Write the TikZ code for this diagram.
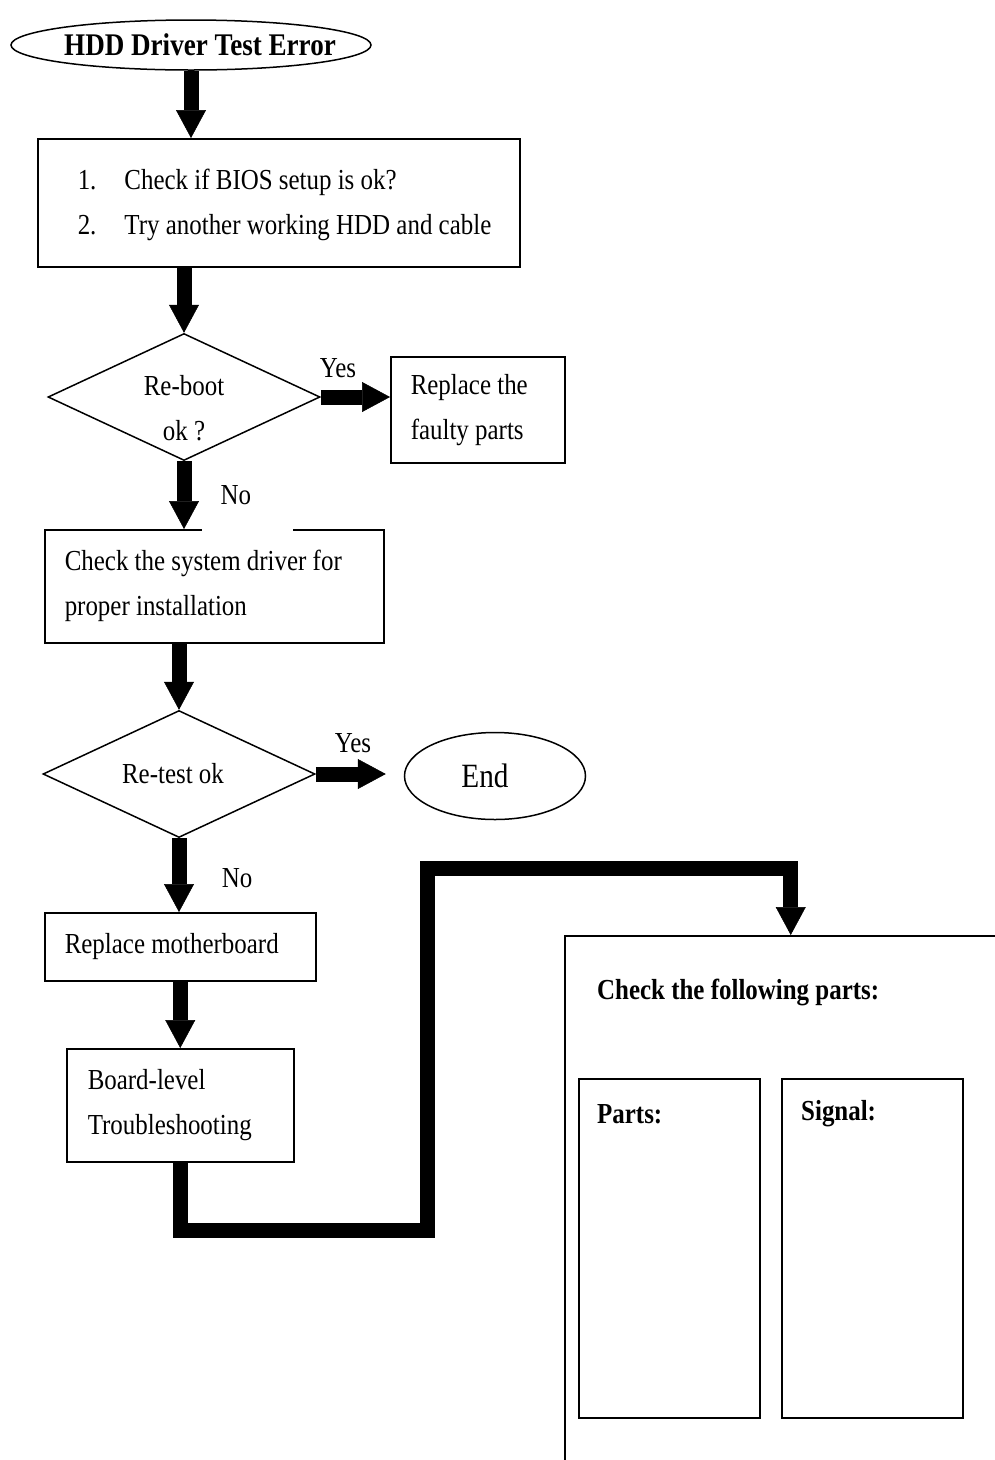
\documentclass[tikz,border=0pt]{standalone}
\usepackage{fontspec}
\setmainfont[FakeStretch=0.86]{Liberation Serif}
\usetikzlibrary{shapes.geometric, arrows.meta, positioning}

\newcommand{\bodyfont}{\fontsize{29}{45}\selectfont}
\newcommand{\headfont}{\fontsize{31.5}{36}\selectfont\bfseries}

\tikzset{
    box/.style={draw, line width=1.5pt, rectangle, anchor=north west, align=left, inner xsep=20pt, inner ysep=0pt,
        execute at begin node={\spaceskip=0pt\xspaceskip=0pt\relax}},
    decision/.style={draw, line width=1.5pt, diamond, aspect=2.14, inner sep=0pt, align=center, minimum width=272pt, minimum height=127pt},
    terminal/.style={draw, line width=1.5pt, ellipse, inner sep=0pt},
    lbl/.style={inner sep=0pt},
    bold/.style={inner sep=0pt, anchor=west, font=\bodyfont\bfseries},
    bigarrow/.style={line width=15pt, -{Triangle[width=30pt, length=28pt, line width=0.5pt]}},
}

\begin{document}
\begin{tikzpicture}[x=1pt, y=-1pt, font=\bodyfont]
    \useasboundingbox (0,0) rectangle (995,1460);
    \clip (0,0) rectangle (995,1460);

    % 1. Start and first checks
    \node[terminal, minimum width=360pt, minimum height=50pt, font=\headfont] (start) at (191,45) {\makebox[0pt]{\hspace*{18pt}HDD Driver Test Error}};
    \node[box, inner xsep=40pt, text width=402pt, minimum height=128pt] (bios) at (37,138)
        {\begin{tabular}{@{}l@{\hspace{28pt}}l@{}}1. & Check if BIOS setup is ok?\\ 2. & Try another working HDD and cable\end{tabular}};
    \node[decision] (reboot) at (184,397) {\rule{0pt}{42pt}Re-boot\\ok ?};
    \node[box, text width=134pt, minimum height=106pt] (replace) at (390,356) {Replace the\\faulty parts};

    % 2. Driver check and re-test
    \node[box, text width=299pt, minimum height=113pt] (driver) at (44,529) {Check the system driver for\\proper installation};
    \node[decision] (retest) at (179,774) {\makebox[0pt]{\hspace*{-12pt}Re-test ok}};
    \node[terminal, minimum width=181pt, minimum height=87pt, font=\fontsize{34}{40}\selectfont] (end) at (495,776) {\makebox[0pt]{\hspace*{-20pt}End}};

    % 3. Motherboard and board level
    \node[box, text width=231pt, minimum height=68pt] (mb) at (44,912) {Replace motherboard};
    \node[box, inner xsep=21pt, text width=185pt, minimum height=113pt] (board) at (66,1048) {Board-level\\Troubleshooting};

    % 4. Parts list
    \node[box, minimum width=452pt, minimum height=600pt] (check) at (564,935) {};
    \node[bold] (checkhd) at (597,992) {Check the following parts:};
    \node[box, minimum width=181pt, minimum height=339pt] (parts) at (578,1078) {};
    \node[box, minimum width=181pt, minimum height=339pt] (signal) at (781,1078) {};
    \node[bold] (partshd) at ([shift={(19,36)}]parts.north west) {Parts:};
    \node[bold] (signalhd) at ([shift={(20,36)}]signal.north west) {Signal:};

    % 5. Arrows
    \draw[bigarrow] (start.south) -- (start.south |- bios.north);
    \draw[bigarrow] (reboot.north |- bios.south) -- (reboot.north);
    \draw[bigarrow] (reboot.south) -- (reboot.south |- driver.north);
    \draw[bigarrow] (reboot.east) -- (reboot.east -| replace.west);
    \draw[bigarrow] (retest.north |- driver.south) -- (retest.north);
    \draw[bigarrow] (retest.south) -- (retest.south |- mb.north);
    \path (retest.east) ++(70,0) coordinate (endin);
    \draw[bigarrow] (retest.east) -- (endin);
    \draw[bigarrow] (board.north |- mb.south) -- (board.north);
    \draw[bigarrow] (board.south) -- ++(0,68) -| (427,868) -| (check.north);

    % 6. Yes / No
    \node[lbl] (yes1) at (338,368) {Yes};
    \node[lbl, fill=white, align=left, text width=53pt, inner xsep=19pt, minimum height=72pt] (no1) at (247,495) {No};
    \node[lbl] (yes2) at (353,743) {Yes};
    \node[lbl] (no2) at (237,878) {No};
\end{tikzpicture}
\end{document}
